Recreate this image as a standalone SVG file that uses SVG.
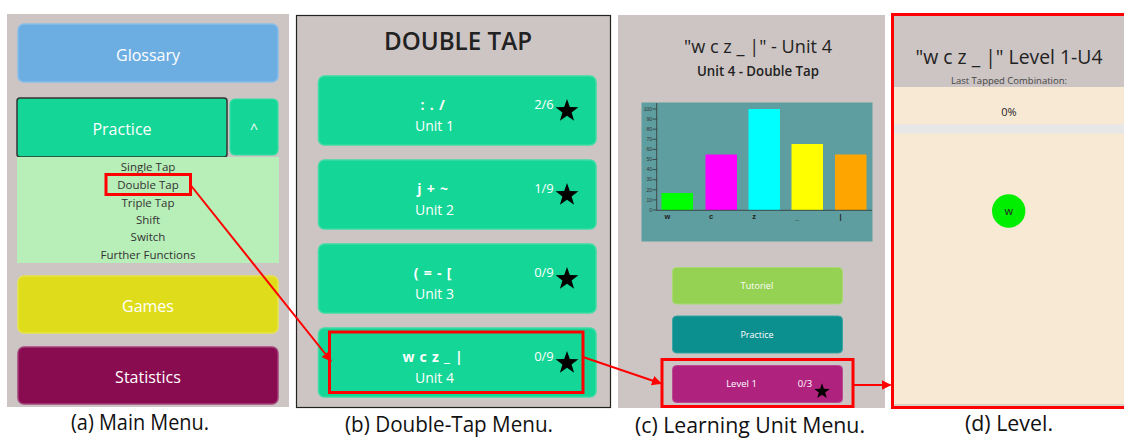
<svg xmlns="http://www.w3.org/2000/svg" width="1124" height="438" viewBox="0 0 1124 438">
<style>
.ui{font-family:"Open Sans","Noto Sans","Liberation Sans",sans-serif}
.w{fill:#ffffff}
.cap{font-family:"Open Sans","Liberation Sans",sans-serif;font-size:21px;fill:#111}
.sub{font-family:"Open Sans","Liberation Sans",sans-serif;font-size:11.5px;fill:#333;text-anchor:middle}
.bgp{fill:#cdc5c4}
.ub{fill:#14d696;stroke:#3ddca4;stroke-width:1.5}
.sym{font-family:"Open Sans","Liberation Sans",sans-serif;font-size:14px;font-weight:bold;fill:#fff;text-anchor:middle;letter-spacing:0.8px}
.unit{font-family:"Open Sans","Liberation Sans",sans-serif;font-size:14px;fill:#fff;text-anchor:middle}
.frac{font-family:"Open Sans","Liberation Sans",sans-serif;font-size:13px;fill:#fff;text-anchor:middle}
.hl{fill:none;stroke:#ff0000;stroke-width:3}
.con{fill:none;stroke:#ff0000;stroke-width:2}
.ax{font-family:"Liberation Sans",sans-serif;font-size:5px;fill:#333;text-anchor:end}
.xl{font-family:"Liberation Sans",sans-serif;font-size:7.5px;font-weight:bold;fill:#222;text-anchor:middle}
</style>
<defs>
<path id="star" d="M0,-12 L2.8,-3.9 L11.4,-3.7 L4.6,1.5 L7.1,9.7 L0,4.8 L-7.1,9.7 L-4.6,1.5 L-11.4,-3.7 L-2.8,-3.9 Z" fill="#000"/>
<marker id="ah" viewBox="0 0 10 10" refX="9" refY="5" markerWidth="5" markerHeight="5" orient="auto" markerUnits="strokeWidth">
<path d="M0,0 L10,5 L0,10 Z" fill="#ff0000"/>
</marker>
</defs>
<rect width="1124" height="438" fill="#ffffff"/>

<!-- Panel (a) -->
<g id="panel-a">
<rect class="bgp" x="7" y="14" width="282" height="393"/>
<g id="a-glossary">
<rect x="18" y="24" width="260" height="58" rx="6" fill="#6daee2" stroke="#86bde8" stroke-width="1.5"/>
<text class="ui w" x="148" y="61" font-size="16" text-anchor="middle">Glossary</text>
</g>
<g id="a-practice">
<rect x="17" y="98" width="210" height="59" rx="3" fill="#14d696" stroke="#333" stroke-width="1.5"/>
<text class="ui w" x="122" y="135" font-size="16" text-anchor="middle">Practice</text>
</g>
<g id="a-expand">
<rect x="230" y="99" width="48" height="56" rx="5" fill="#14d696" stroke="#3ddca4" stroke-width="1.2"/>
<text class="ui w" x="254" y="134" font-size="14" text-anchor="middle">^</text>
</g>
<g id="a-submenu">
<rect x="17" y="157" width="262" height="106" fill="#b8eeb8"/>
<text class="sub" x="148" y="171">Single Tap</text>
<text class="sub" x="148" y="189">Double Tap</text>
<text class="sub" x="148" y="207">Triple Tap</text>
<text class="sub" x="148" y="224">Shift</text>
<text class="sub" x="148" y="241">Switch</text>
<text class="sub" x="148" y="259">Further Functions</text>
<rect class="hl" x="106" y="174.5" width="84.5" height="20"/>
</g>
<g id="a-games">
<rect x="18" y="276" width="260" height="57" rx="6" fill="#dfdd1b" stroke="#e6e34a" stroke-width="1.5"/>
<text class="ui w" x="148" y="312" font-size="16" text-anchor="middle">Games</text>
</g>
<g id="a-statistics">
<rect x="18" y="347" width="260" height="57" rx="6" fill="#8a0c50" stroke="#a24078" stroke-width="1.5"/>
<text class="ui w" x="148" y="383" font-size="16" text-anchor="middle">Statistics</text>
</g>
<text class="cap" x="140" y="430" text-anchor="middle" textLength="138" lengthAdjust="spacingAndGlyphs">(a) Main Menu.</text>
</g>

<!-- Panel (b) -->
<g id="panel-b">
<rect class="bgp" x="296.5" y="15.5" width="314" height="392" stroke="#222" stroke-width="1.2"/>
<text class="ui" x="458" y="50" font-size="25" font-weight="600" fill="#222" text-anchor="middle" textLength="148" lengthAdjust="spacingAndGlyphs">DOUBLE TAP</text>
<g id="b-unit1">
<rect class="ub" x="318.5" y="76" width="277.5" height="69" rx="6"/>
<text class="sym" x="433" y="110">: . /</text>
<text class="unit" x="434.5" y="131">Unit 1</text>
<text class="frac" x="544" y="109">2/6</text>
<use href="#star" x="567" y="111"/>
</g>
<g id="b-unit2">
<rect class="ub" x="318.5" y="160" width="277.5" height="69" rx="6"/>
<text class="sym" x="433" y="194">j + ~</text>
<text class="unit" x="434.5" y="215">Unit 2</text>
<text class="frac" x="544" y="193">1/9</text>
<use href="#star" x="567" y="195"/>
</g>
<g id="b-unit3">
<rect class="ub" x="318.5" y="244" width="277.5" height="69" rx="6"/>
<text class="sym" x="433" y="278">( = - [</text>
<text class="unit" x="434.5" y="299">Unit 3</text>
<text class="frac" x="544" y="277">0/9</text>
<use href="#star" x="567" y="279"/>
</g>
<g id="b-unit4">
<rect class="ub" x="318.5" y="328" width="277.5" height="69" rx="6"/>
<text class="sym" x="433" y="362" font-size="13" letter-spacing="1">w c z _ |</text>
<text class="unit" x="434.5" y="383">Unit 4</text>
<text class="frac" x="544" y="361">0/9</text>
<use href="#star" x="567" y="363"/>
<rect class="hl" x="329.5" y="332" width="253.5" height="60.5"/>
</g>
<text class="cap" x="449" y="432" text-anchor="middle" textLength="208" lengthAdjust="spacingAndGlyphs">(b) Double-Tap Menu.</text>
</g>

<!-- Panel (c) -->
<g id="panel-c">
<rect class="bgp" x="618" y="15" width="267" height="393"/>
<text class="ui" x="758" y="53" font-size="19" fill="#222" text-anchor="middle" textLength="148" lengthAdjust="spacingAndGlyphs">"w c z _ |" - Unit 4</text>
<text class="ui" x="758" y="76" font-size="13.5" font-weight="600" fill="#222" text-anchor="middle" textLength="122" lengthAdjust="spacingAndGlyphs">Unit 4 - Double Tap</text>
<g id="c-chart">
<rect x="641.5" y="102.5" width="231" height="139" fill="#5f9ea0"/>
<rect x="661.5" y="193" width="31.5" height="17" fill="#00ff00"/>
<rect x="705.5" y="154.5" width="31.5" height="55.5" fill="#ff00ff"/>
<rect x="748.5" y="109" width="31.5" height="101" fill="#00ffff"/>
<rect x="791.5" y="144" width="31.5" height="66" fill="#ffff00"/>
<rect x="835" y="154.5" width="31.5" height="55.5" fill="#ffa500"/>
<g stroke="#333" stroke-width="0.8">
<line x1="656.7" y1="103" x2="656.7" y2="210.5"/>
<line x1="656.7" y1="210.3" x2="872" y2="210.3"/>
<line x1="652.5" y1="109" x2="656.7" y2="109"/>
<line x1="652.5" y1="119.1" x2="656.7" y2="119.1"/>
<line x1="652.5" y1="129.2" x2="656.7" y2="129.2"/>
<line x1="652.5" y1="139.3" x2="656.7" y2="139.3"/>
<line x1="652.5" y1="149.4" x2="656.7" y2="149.4"/>
<line x1="652.5" y1="159.5" x2="656.7" y2="159.5"/>
<line x1="652.5" y1="169.6" x2="656.7" y2="169.6"/>
<line x1="652.5" y1="179.7" x2="656.7" y2="179.7"/>
<line x1="652.5" y1="189.8" x2="656.7" y2="189.8"/>
<line x1="652.5" y1="199.9" x2="656.7" y2="199.9"/>
<line x1="652.5" y1="210" x2="656.7" y2="210"/>
</g>
<text class="ax" x="652" y="110.7">100</text>
<text class="ax" x="652" y="120.8">90</text>
<text class="ax" x="652" y="130.9">80</text>
<text class="ax" x="652" y="141">70</text>
<text class="ax" x="652" y="151.1">60</text>
<text class="ax" x="652" y="161.2">50</text>
<text class="ax" x="652" y="171.3">40</text>
<text class="ax" x="652" y="181.4">30</text>
<text class="ax" x="652" y="191.5">20</text>
<text class="ax" x="652" y="201.6">10</text>
<text class="ax" x="652" y="211.7">0</text>
<text class="xl" x="667.5" y="219">w</text>
<text class="xl" x="711" y="219">c</text>
<text class="xl" x="754" y="219">z</text>
<text class="xl" x="797" y="220">_</text>
<text class="xl" x="840.5" y="219">|</text>
</g>
<g id="c-tutoriel">
<rect x="672.5" y="267.5" width="170" height="36.5" rx="4" fill="#95d152" stroke="#a9da72" stroke-width="1"/>
<text class="ui w" x="757" y="289" font-size="9" text-anchor="middle">Tutoriel</text>
</g>
<g id="c-practice">
<rect x="672.5" y="316" width="170" height="37" rx="4" fill="#0b8f8f" stroke="#3aa3a3" stroke-width="1"/>
<text class="ui w" x="757" y="338" font-size="9" text-anchor="middle">Practice</text>
</g>
<g id="c-level1">
<rect x="672.5" y="365.5" width="170" height="37" rx="4" fill="#af237f" stroke="#bc4a93" stroke-width="1"/>
<text class="ui w" x="741.5" y="387" font-size="9.5" text-anchor="middle">Level 1</text>
<text class="ui w" x="805" y="387" font-size="9.5" text-anchor="middle">0/3</text>
<use href="#star" transform="translate(822 391.5) scale(0.68)"/>
<rect class="hl" x="662" y="359.5" width="191" height="47"/>
</g>
<text class="cap" x="750" y="432.5" text-anchor="middle" textLength="230" lengthAdjust="spacingAndGlyphs">(c) Learning Unit Menu.</text>
</g>

<!-- Panel (d) -->
<g id="panel-d">
<rect x="893" y="15" width="233" height="72" fill="#cdc5c4"/>
<rect x="893" y="87" width="233" height="318" fill="#f8e9d5"/>
<rect x="893" y="124.5" width="233" height="9" fill="#e7e7e7"/>
<line x1="893" y1="405" x2="1126" y2="405" stroke="#cfc4b8" stroke-width="1.5"/>
<text class="ui" x="1009" y="64" font-size="20" fill="#222" text-anchor="middle" textLength="187" lengthAdjust="spacingAndGlyphs">"w c z _ |" Level 1-U4</text>
<text class="ui" x="1009" y="84" font-size="9" fill="#444" text-anchor="middle" textLength="116" lengthAdjust="spacingAndGlyphs">Last Tapped Combination:</text>
<text class="ui" x="1009" y="116" font-size="11" fill="#222" text-anchor="middle">0%</text>
<g id="d-target">
<circle cx="1008.7" cy="211" r="16.7" fill="#00ee00"/>
<text class="ui" x="1008.7" y="215" font-size="11" fill="#222" text-anchor="middle">w</text>
</g>
<rect class="hl" x="892.5" y="14.5" width="234" height="393" stroke-width="3.5"/>
<text class="cap" x="1009" y="431" text-anchor="middle" textLength="88" lengthAdjust="spacingAndGlyphs">(d) Level.</text>
</g>

<!-- Connectors -->
<g id="connectors">
<line class="con" x1="190.5" y1="185" x2="331" y2="361" marker-end="url(#ah)"/>
<line class="con" x1="583" y1="357" x2="661" y2="383.5" marker-end="url(#ah)"/>
<line class="con" x1="853" y1="385" x2="890.5" y2="385" marker-end="url(#ah)"/>
</g>
</svg>
